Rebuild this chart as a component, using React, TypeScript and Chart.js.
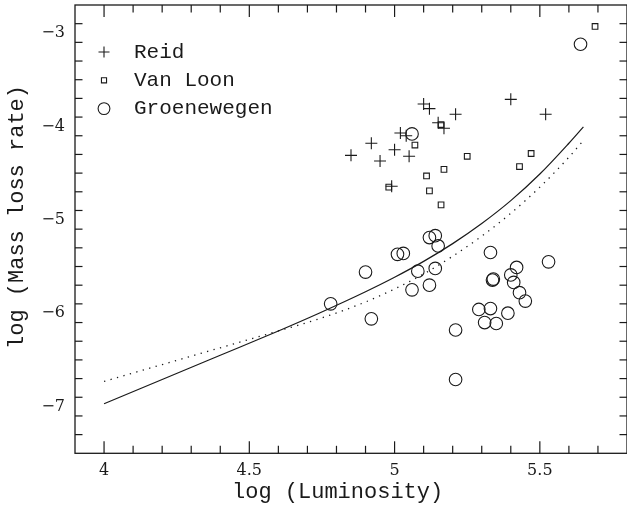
import React, { useEffect, useRef } from 'react';
import { Chart, registerables } from 'chart.js';

Chart.register(...registerables);

// ---- data ----
const reidX = [4.85, 4.92, 4.95, 5.00, 5.02, 5.04, 5.05, 5.10, 5.12, 5.21, 5.15, 5.17, 5.40, 5.52, 4.99];
const reidY = [-4.31, -4.18, -4.37, -4.25, -4.07, -4.10, -4.32, -3.76, -3.81, -3.87, -3.96, -4.02, -3.71, -3.87, -4.64];

const vanLoonX = [5.16, 5.07, 5.25, 5.17, 5.11, 5.12, 5.16, 4.98, 5.47, 5.43, 5.69];
const vanLoonY = [-3.98, -4.20, -4.32, -4.46, -4.53, -4.69, -4.84, -4.65, -4.29, -4.43, -2.93];

const groenX = [5.12, 5.14, 5.15, 5.01, 5.03, 4.90, 5.08, 5.14, 5.06, 5.12, 4.78, 4.92, 5.33, 5.337, 5.34, 5.40, 5.42, 5.41, 5.43, 5.45, 5.53, 5.29, 5.33, 5.39, 5.31, 5.35, 5.21, 5.21, 5.06, 5.64];
const groenY = [-5.19, -5.17, -5.28, -5.37, -5.36, -5.56, -5.55, -5.52, -5.75, -5.70, -5.90, -6.06, -5.35, -5.645, -5.635, -5.59, -5.51, -5.67, -5.78, -5.87, -5.45, -5.96, -5.95, -6.00, -6.10, -6.11, -6.18, -6.71, -4.08, -3.12];

const solidX = [4.0, 4.2, 4.4, 4.6, 4.74, 4.9, 5.0, 5.1, 5.2, 5.3, 5.4, 5.5, 5.6, 5.65];
const solidY = [-6.97, -6.71, -6.45, -6.19, -6.00, -5.77, -5.615, -5.445, -5.255, -5.04, -4.795, -4.51, -4.18, -4.005];

const dottedX = [4.0, 4.2, 4.4, 4.6, 4.74, 4.9, 5.0, 5.1, 5.2, 5.3, 5.4, 5.5, 5.6, 5.65];
const dottedY = [-6.73, -6.55, -6.37, -6.19, -6.06, -5.88, -5.74, -5.58, -5.39, -5.175, -4.93, -4.65, -4.33, -4.15];

const seriesLabels = ['Reid', 'Van Loon', 'Groenewegen'];

const xTickLabels = [4, 4.5, 5, 5.5];
const yTickLabels = [-7, -6, -5, -4, -3];
const xMinorStep = 0.1;
const yMinorStep = 0.2;
const xMin = 3.9;
const xMax = 5.8;
const yMin = -7.5;
const yMax = -2.7;

const xTitle = 'log (Luminosity)';
const yTitle = 'log (Mass loss rate)';

// ---- styles ----
const INK = '#1a1a1a';
const MONO = '"Liberation Mono", "DejaVu Sans Mono", monospace';
const SERIF = '"DejaVu Serif", serif';

const zip = (xs: number[], ys: number[]) => xs.map((x, i) => ({ x, y: ys[i] }));

const fmt = (v: number) => (v < 0 ? '\u2212' + String(Math.abs(v)) : String(v));

function drawMarker(ctx: CanvasRenderingContext2D, style: string, r: number, x: number, y: number) {
  ctx.beginPath();
  if (style === 'cross') {
    ctx.moveTo(x - r, y);
    ctx.lineTo(x + r, y);
    ctx.moveTo(x, y - r);
    ctx.lineTo(x, y + r);
  } else if (style === 'rect') {
    const s = Math.SQRT1_2 * r;
    ctx.rect(x - s, y - s, 2 * s, 2 * s);
  } else {
    ctx.arc(x, y, r, 0, Math.PI * 2);
  }
  ctx.stroke();
}

const frameTicksPlugin = {
  id: 'frameTicks',
  afterDraw(chart: any) {
    const { ctx, chartArea: a, scales } = chart;
    const xs = scales.x;
    const ys = scales.y;
    ctx.save();
    ctx.strokeStyle = INK;
    ctx.lineWidth = 1.3;
    ctx.strokeRect(a.left, a.top, a.right - a.left, a.bottom - a.top);
    ctx.lineWidth = 1.2;
    const seg = (x1: number, y1: number, x2: number, y2: number) => {
      ctx.beginPath();
      ctx.moveTo(x1, y1);
      ctx.lineTo(x2, y2);
      ctx.stroke();
    };
    const nx = Math.round((xMax - xMin) / xMinorStep);
    for (let i = 1; i < nx; i++) {
      const v = xMin + i * xMinorStep;
      const major = xTickLabels.some((t) => Math.abs(t - v) < 1e-6);
      const len = major ? 12 : 7.5;
      const px = xs.getPixelForValue(v);
      seg(px, a.bottom, px, a.bottom - len);
      seg(px, a.top, px, a.top + len);
    }
    const ny = Math.round((yMax - yMin) / yMinorStep);
    for (let i = 1; i <= ny; i++) {
      const v = yMin + i * yMinorStep;
      if (v > yMax - 1e-6) break;
      const major = yTickLabels.some((t) => Math.abs(t - v) < 1e-6);
      const len = major ? 11.5 : 7.5;
      const py = ys.getPixelForValue(v);
      seg(a.left, py, a.left + len, py);
      seg(a.right, py, a.right - len, py);
    }
    ctx.restore();
  },
};

const titlesPlugin = {
  id: 'axisTitles',
  afterDraw(chart: any) {
    const { ctx } = chart;
    ctx.save();
    ctx.fillStyle = INK;
    ctx.font = `22px ${MONO}`;
    ctx.textAlign = 'center';
    ctx.textBaseline = 'middle';
    ctx.fillText(xTitle, 337.6, 492);
    ctx.translate(17.2, 217);
    ctx.rotate(-Math.PI / 2);
    ctx.fillText(yTitle, 0, 0);
    ctx.restore();
  },
};

const legendPlugin = {
  id: 'insideLegend',
  afterDraw(chart: any) {
    const { ctx, chartArea: a } = chart;
    ctx.save();
    ctx.font = `21px ${MONO}`;
    ctx.textAlign = 'left';
    ctx.textBaseline = 'middle';
    ctx.fillStyle = INK;
    ctx.strokeStyle = INK;
    ctx.lineWidth = 1.1;
    const ds = chart.data.datasets.filter((d: any) => seriesLabels.includes(d.label));
    ds.forEach((d: any, i: number) => {
      const y = a.top + 47 + i * 28.3;
      drawMarker(ctx, d.pointStyle, d.legendRadius, a.left + 29, y);
      ctx.fillText(d.label, a.left + 59, y);
    });
    ctx.restore();
  },
};

const zeroPad = (s: any) => {
  s.paddingTop = 0;
  s.paddingBottom = 0;
  s.paddingLeft = 0;
  s.paddingRight = 0;
};

export default function App() {
  const ref = useRef<HTMLCanvasElement | null>(null);
  useEffect(() => {
    if (!ref.current) return;
    const pointBase = {
      showLine: false,
      borderColor: INK,
      backgroundColor: 'rgba(0,0,0,0)',
      pointBorderColor: INK,
      pointBackgroundColor: 'rgba(0,0,0,0)',
      pointBorderWidth: 1.1,
    };
    const chart = new Chart(ref.current, {
      type: 'scatter',
      data: {
        datasets: [
          { ...pointBase, label: seriesLabels[0], data: zip(reidX, reidY), pointStyle: 'cross', pointRadius: 6, legendRadius: 5.5 } as any,
          { ...pointBase, label: seriesLabels[1], data: zip(vanLoonX, vanLoonY), pointStyle: 'rect', pointRadius: 4, legendRadius: 3.6 } as any,
          { ...pointBase, label: seriesLabels[2], data: zip(groenX, groenY), pointStyle: 'circle', pointRadius: 6.3, legendRadius: 5.9 } as any,
          {
            label: 'fit',
            data: zip(solidX, solidY),
            showLine: true,
            borderColor: INK,
            borderWidth: 1.2,
            pointRadius: 0,
            cubicInterpolationMode: 'monotone',
          },
          {
            label: 'fit2',
            data: zip(dottedX, dottedY),
            showLine: true,
            borderColor: INK,
            borderWidth: 1.3,
            borderDash: [1.3, 5.4],
            pointRadius: 0,
            cubicInterpolationMode: 'monotone',
          },
        ],
      },
      options: {
        animation: false,
        responsive: false,
        devicePixelRatio: 1,
        events: [],
        layout: { autoPadding: false, padding: { left: 0, right: 0, top: 5, bottom: 0 } },
        plugins: { legend: { display: false }, tooltip: { enabled: false }, title: { display: false } },
        scales: {
          x: {
            type: 'linear',
            position: 'bottom',
            min: xMin,
            max: xMax,
            grid: { display: false, drawTicks: false },
            border: { display: false },
            afterBuildTicks: (s: any) => {
              s.ticks = xTickLabels.map((v) => ({ value: v }));
            },
            afterFit: (s: any) => {
              s.height = 64.7;
              zeroPad(s);
            },
            ticks: {
              autoSkip: false,
              maxRotation: 0,
              padding: 8,
              color: INK,
              font: { family: SERIF, size: 16 },
              callback: (v: any) => fmt(Number(v)),
            },
          },
          y: {
            type: 'linear',
            position: 'left',
            min: yMin,
            max: yMax,
            grid: { display: false, drawTicks: false },
            border: { display: false },
            afterBuildTicks: (s: any) => {
              s.ticks = yTickLabels.map((v) => ({ value: v }));
            },
            afterFit: (s: any) => {
              s.width = 75;
              zeroPad(s);
            },
            ticks: {
              autoSkip: false,
              padding: 10,
              color: INK,
              font: { family: SERIF, size: 16 },
              callback: (v: any) => fmt(Number(v)),
            },
          },
        },
      } as any,
      plugins: [frameTicksPlugin, titlesPlugin, legendPlugin],
    });
    return () => chart.destroy();
  }, []);
  return (
    <div style={{ position: 'absolute', left: 0, top: 0, width: 627, height: 518, background: '#fff' }}>
      <canvas ref={ref} width={627} height={518} style={{ display: 'block' }} />
    </div>
  );
}
